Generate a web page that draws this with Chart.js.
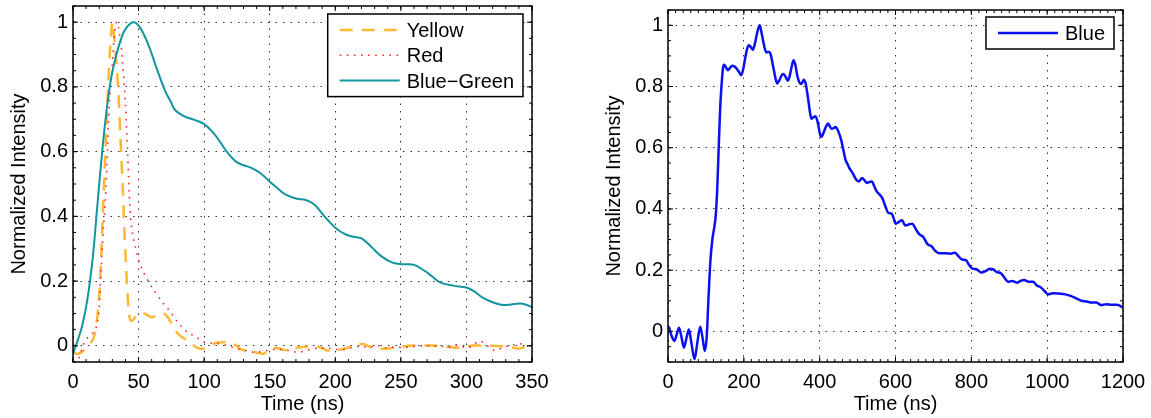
<!DOCTYPE html>
<html>
<head>
<meta charset="utf-8">
<script src="https://cdn.jsdelivr.net/npm/chart.js@4.4.1/dist/chart.umd.min.js"></script>
<style>
  html, body { margin: 0; padding: 0; background: #fff; }
  body { width: 1151px; height: 418px; position: relative; overflow: hidden; }
  .panel { position: absolute; top: 0; height: 418px; }
  #panel1 { left: 0; width: 575px; }
  #panel2 { left: 575px; width: 576px; }
</style>
</head>
<body>
<div class="panel" id="panel1"><canvas id="pulseChart"></canvas></div>
<div class="panel" id="panel2"><canvas id="blueChart"></canvas></div>
<script>
//------------------ データ ------------------//
// [時間 (ns), 規格化強度]
const yellowPulse = [
  [0,-0.02],[3,-0.025],[6,-0.022],[9,-0.01],[12,0.003],[14.5,0.015],[16.5,0.035],[18,0.07],
  [19.5,0.13],[20.7,0.2],[22,0.33],[23.7,0.5],[25.2,0.65],[26.8,0.8],[28,0.9],[29,0.96],
  [30,1.0],[31,0.97],[32,0.93],[33.2,0.87],[34.4,0.8],[36,0.66],[37.8,0.5],[39.4,0.34],
  [41,0.2],[42.5,0.11],[44,0.077],[46,0.08],[48,0.092],[51,0.1],[54,0.1],[57,0.094],
  [60,0.088],[63,0.092],[66,0.1],[69,0.1],[72,0.09],[75,0.07],[78,0.048],[82,0.03],
  [86,0.02],[90,0.008],[94,-0.005],[98,-0.01],[102,-0.004],[106,0.004],[110,0.01],[115,0.011],
  [120,0.011],[124,0.002],[128,-0.01],[133,-0.016],[137,-0.017],[141,-0.022],[145,-0.025],[149,-0.014],
  [153,-0.006],[157,-0.008],[161,-0.013],[166,-0.01],[170,-0.006],[175,-0.004],[180,-0.002],[185,0.0],
  [190,-0.008],[196,-0.016],[201,-0.014],[206,-0.01],[211,-0.004],[216,0.004],[221,0.006],[226,-0.002],
  [231,-0.007],[236,-0.009],[241,-0.008],[246,-0.005],[251,-0.003],[256,0.0],[261,0.001],[267,0.001],
  [272,0.001],[277,0.0],[282,-0.001],[287,-0.003],[292,-0.006],[296,-0.005],[300,-0.002],[305,0.001],
  [310,0.001],[315,0.001],[320,0.0],[326,-0.001],[331,-0.002],[336,-0.006],[340,-0.009],[345,-0.002],
  [350,0.008]
]
const redPulse = [
  [0,-0.05],[3,-0.045],[5.3,-0.03],[7.5,0.0],[10.5,0.022],[14,0.035],[17,0.05],[18.5,0.07],
  [20,0.12],[21.2,0.22],[23,0.35],[24.5,0.44],[25.5,0.52],[26.5,0.63],[27.5,0.73],[28.5,0.79],
  [29.5,0.84],[30.5,0.9],[31.5,0.96],[32.7,0.995],[33.7,1.0],[34.7,0.985],[35.6,0.96],[36.5,0.935],
  [37.8,0.88],[39,0.81],[40,0.75],[41,0.66],[41.8,0.58],[42.6,0.5],[43.5,0.42],[44.9,0.36],
  [46.7,0.32],[48.5,0.29],[50,0.265],[54,0.225],[58,0.195],[63,0.164],[69.5,0.128],[74.7,0.103],
  [80,0.072],[86,0.046],[92.6,0.03],[100,0.012],[106,0.008],[112,0.006],[118,0.001],[125,-0.009],
  [131,-0.014],[138,-0.02],[145,-0.017],[151,-0.012],[158,-0.011],[164,-0.014],[172,-0.02],[178,-0.014],
  [185,-0.008],[192,-0.006],[199,-0.01],[205,-0.012],[212,-0.006],[219,-0.002],[226,-0.004],[232,0.001],
  [238,-0.006],[245,-0.004],[252,-0.005],[260,-0.002],[267,0.0],[275,0.0],[282,-0.002],[287,-0.004],
  [293,0.003],[300,-0.006],[305,0.002],[310,0.015],[316,0.0],[322,-0.015],[328,-0.005],[334,0.002],
  [341,0.006],[346,0.0],[350,-0.002]
]
const blueGreenPulse = [
  [0,-0.025],[3,0.01],[7,0.062],[11,0.144],[15,0.27],[18.5,0.43],[21,0.545],[23.7,0.658],
  [26.3,0.75],[29.3,0.832],[32.7,0.894],[36.5,0.946],[40.3,0.981],[46,1.0],[50.5,0.987],[57,0.935],
  [63.3,0.863],[70,0.79],[74.5,0.755],[78,0.728],[85,0.709],[92.6,0.698],[100,0.685],[107,0.658],
  [113,0.625],[118,0.596],[124,0.57],[130,0.558],[136,0.55],[142.7,0.534],[151,0.504],[157,0.483],
  [162,0.468],[170,0.455],[178,0.45],[184,0.437],[191.8,0.4],[200,0.365],[208,0.344],[215,0.336],
  [220,0.332],[227,0.308],[235,0.277],[243.6,0.257],[252,0.252],[260,0.25],[268,0.232],[274,0.214],
  [280,0.196],[290,0.186],[300,0.18],[306,0.168],[312,0.15],[320.5,0.134],[328,0.126],[334,0.128],
  [341,0.131],[346,0.126],[350,0.119]
]
const bluePulse = [
  [0,0.015],[3,0.012],[9,-0.013],[17,-0.031],[23,-0.01],[29,0.012],[35,-0.015],[42,-0.053],
  [49,-0.02],[55,0.006],[62,-0.04],[70,-0.091],[77,-0.04],[85,0.015],[91,-0.02],[97,-0.064],
  [102,-0.02],[107,0.115],[112,0.234],[117,0.3],[122,0.34],[126,0.38],[130,0.47],[134,0.61],
  [138,0.74],[141,0.8],[145,0.86],[148,0.871],[153,0.862],[158,0.853],[163,0.86],[169,0.868],
  [175,0.866],[180,0.86],[187,0.848],[193,0.837],[198,0.855],[203,0.888],[208,0.92],[213,0.935],
  [219,0.928],[224,0.92],[230,0.945],[236,0.98],[242,1.0],[246,0.98],[251,0.949],[255,0.925],
  [260,0.911],[265,0.914],[270,0.908],[277,0.868],[283,0.83],[288,0.81],[294,0.821],[299,0.835],
  [304,0.841],[310,0.832],[316,0.819],[320,0.83],[325,0.858],[331,0.886],[336,0.87],[341,0.835],
  [346,0.815],[352,0.808],[358,0.822],[363,0.81],[369,0.765],[374,0.72],[378,0.695],[384,0.7],
  [389,0.703],[395,0.682],[400,0.65],[404,0.635],[408,0.642],[413,0.658],[418,0.672],[422,0.679],
  [426,0.672],[431,0.662],[436,0.663],[442,0.668],[446,0.662],[450,0.651],[457,0.624],[463,0.59],
  [468,0.561],[474,0.545],[478,0.534],[487,0.517],[496,0.496],[503,0.49],[512,0.501],[518,0.494],
  [524,0.485],[531,0.488],[538,0.49],[544,0.474],[550,0.458],[558,0.447],[565,0.436],[570,0.42],
  [575,0.403],[581,0.387],[590,0.385],[595,0.37],[600,0.352],[607,0.356],[617,0.363],[626,0.346],
  [636,0.35],[644,0.352],[654,0.333],[663,0.317],[673,0.309],[685,0.284],[694,0.279],[706,0.262],
  [716,0.255],[732,0.255],[746,0.254],[757,0.257],[767,0.244],[776,0.235],[786,0.233],[793,0.219],
  [803,0.205],[814,0.203],[826,0.192],[838,0.197],[848,0.205],[857,0.203],[867,0.194],[878,0.19],
  [887,0.176],[897,0.162],[908,0.165],[920,0.159],[930,0.165],[939,0.168],[951,0.162],[963,0.162],
  [972,0.151],[984,0.143],[993,0.132],[1002,0.121],[1015,0.125],[1029,0.124],[1048,0.121],[1062,0.116],
  [1076,0.108],[1090,0.1],[1104,0.098],[1118,0.094],[1130,0.094],[1142,0.086],[1156,0.089],[1170,0.087],
  [1184,0.087],[1200,0.078]
]
// 目盛りラベル
const pulseTimeTicks = [0, 50, 100, 150, 200, 250, 300, 350]
const blueTimeTicks = [0, 200, 400, 600, 800, 1000, 1200]
const intensityTicks = [0, 0.2, 0.4, 0.6, 0.8, 1]
//-------------------------------------------//

const FONT = '"Liberation Sans", Arial, Helvetica, sans-serif'
Chart.defaults.font.family = FONT
Chart.defaults.font.size = 20
Chart.defaults.color = '#000'

const toXY = pairs => pairs.map(([x, y]) => ({x: x, y: y}))

/*--------------------------------------------------------------------
枠と内向きの目盛り（主・副）を四辺に描くプラグイン
--------------------------------------------------------------------*/
const boxAxes = {
  id: 'boxAxes',
  afterDraw(chart, args, opts) {
    const {ctx, chartArea: a, scales} = chart
    ctx.save()
    ctx.strokeStyle = '#000'
    ctx.lineWidth = 1
    ctx.setLineDash([])
    ctx.beginPath()
    // 目盛り1本（長さlen）を上下または左右の辺に描く
    const mark = (scale, value, len) => {
      const p = scale.getPixelForValue(value)
      if (scale.isHorizontal()) {
        ctx.moveTo(p, a.bottom); ctx.lineTo(p, a.bottom - len)
        ctx.moveTo(p, a.top); ctx.lineTo(p, a.top + len)
      } else {
        ctx.moveTo(a.left, p); ctx.lineTo(a.left + len, p)
        ctx.moveTo(a.right, p); ctx.lineTo(a.right - len, p)
      }
    }
    // 副目盛り
    const minor = (scale, step) => {
      const k0 = Math.ceil(scale.min / step - 1e-9)
      for (let k = k0; k * step <= scale.max + 1e-9; k++) mark(scale, k * step, 3)
    }
    minor(scales.x, opts.xMinor)
    minor(scales.y, opts.yMinor)
    // 主目盛り
    scales.x.ticks.forEach(t => mark(scales.x, t.value, 5))
    scales.y.ticks.forEach(t => mark(scales.y, t.value, 5))
    ctx.stroke()
    ctx.lineWidth = 1.5
    ctx.strokeRect(a.left, a.top, a.right - a.left, a.bottom - a.top)
    ctx.restore()
  }
}

/*--------------------------------------------------------------------
グラフ内右上の凡例ボックス
--------------------------------------------------------------------*/
const legendBox = {
  id: 'legendBox',
  afterDraw(chart, args, opts) {
    const {ctx, chartArea} = chart
    const sets = chart.data.datasets
    const rowGap = 25.3
    ctx.save()
    ctx.font = '20px ' + FONT
    const textW = Math.max(...sets.map(d => ctx.measureText(d.label).width))
    const w = 12 + 60 + 7 + textW + 9
    const h = 32 + (sets.length - 1) * rowGap
    const x0 = chartArea.right - 9 - w
    const y0 = chartArea.top + opts.top
    ctx.fillStyle = '#fff'
    ctx.fillRect(x0, y0, w, h)
    ctx.lineWidth = 1.5
    ctx.strokeStyle = '#000'
    ctx.strokeRect(x0, y0, w, h)
    sets.forEach((d, i) => {
      const cy = y0 + 16 + i * rowGap
      ctx.beginPath()
      ctx.setLineDash(d.borderDash || [])
      ctx.lineWidth = d.borderWidth
      ctx.strokeStyle = d.borderColor
      ctx.moveTo(x0 + 12, cy)
      ctx.lineTo(x0 + 72, cy)
      ctx.stroke()
      ctx.setLineDash([])
      ctx.fillStyle = '#000'
      ctx.textBaseline = 'alphabetic'
      ctx.fillText(d.label, x0 + 79, cy + 7)
    })
    ctx.restore()
  }
}

/*--------------------------------------------------------------------
軸設定を作る関数
--------------------------------------------------------------------*/
function timeAxis(maxTime, tickValues) {
  return {
    type: 'linear',
    min: 0,
    max: maxTime,
    afterBuildTicks: s => { s.ticks = tickValues.map(v => ({value: v})) },
    afterFit: s => { s.height = 56; s.paddingLeft = 0; s.paddingRight = 0 },
    ticks: {padding: 8, autoSkip: false, maxRotation: 0, callback: v => String(v)},
    grid: {color: '#333', lineWidth: 1, drawTicks: false},
    border: {display: false, dash: [1.5, 6]},
    title: {display: true, text: 'Time (ns)', padding: {top: 0, bottom: 2}}
  }
}

function intensityAxis(minValue, axisWidth, titleOffset) {
  return {
    min: minValue,
    max: 1.05,
    afterBuildTicks: s => { s.ticks = intensityTicks.map(v => ({value: v})) },
    afterFit: s => { s.width = axisWidth; s.paddingTop = 0; s.paddingBottom = 0 },
    ticks: {padding: 5, autoSkip: false, callback: v => String(+v.toFixed(2))},
    grid: {color: '#333', lineWidth: 1, drawTicks: false},
    border: {display: false, dash: [1.5, 6]},
    title: {display: true, text: 'Normalized Intensity', padding: {top: titleOffset, bottom: 0}}
  }
}

// smooth: true なら張力つきの曲線、false なら単調補間
function lineSet(label, pairs, color, width, dash, order, smooth) {
  return {
    label: label,
    data: toXY(pairs),
    borderColor: color,
    borderWidth: width,
    borderDash: dash,
    pointRadius: 0,
    fill: false,
    tension: smooth ? 0.4 : 0,
    cubicInterpolationMode: smooth ? 'default' : 'monotone',
    order: order
  }
}

const commonOptions = {
  responsive: true,
  maintainAspectRatio: false,
  animation: false,
  devicePixelRatio: 1,
  events: [],
  plugins: {legend: {display: false}, tooltip: {enabled: false}}
}

// 左：3色のパルス
new Chart(document.getElementById('pulseChart'), {
  type: 'line',
  data: {
    datasets: [
      lineSet('Yellow', yellowPulse, '#FFB833', 2.5, [13, 9], 3, false),
      lineSet('Red', redPulse, '#FF2A2A', 1.6, [1.6, 5.5], 2, false),
      lineSet('Blue\u2212Green', blueGreenPulse, '#12959F', 2, [], 1, true)
    ]
  },
  options: Object.assign({}, commonOptions, {
    layout: {padding: {top: 6, right: 43, left: 0, bottom: 0}},
    scales: {x: timeAxis(350, pulseTimeTicks), y: intensityAxis(-0.05, 73, 7)},
    plugins: Object.assign({}, commonOptions.plugins, {
      boxAxes: {xMinor: 10, yMinor: 0.05},
      legendBox: {top: 8}
    })
  }),
  plugins: [boxAxes, legendBox]
})

// 右：青のパルス
new Chart(document.getElementById('blueChart'), {
  type: 'line',
  data: {
    datasets: [
      lineSet('Blue', bluePulse, '#0A10F2', 2.5, [], 1, false)
    ]
  },
  options: Object.assign({}, commonOptions, {
    layout: {padding: {top: 10, right: 28, left: 0, bottom: 0}},
    scales: {x: timeAxis(1200, blueTimeTicks), y: intensityAxis(-0.1, 93, 27)},
    plugins: Object.assign({}, commonOptions.plugins, {
      boxAxes: {xMinor: 20, yMinor: 0.05},
      legendBox: {top: 7}
    })
  }),
  plugins: [boxAxes, legendBox]
})
</script>
</body>
</html>
